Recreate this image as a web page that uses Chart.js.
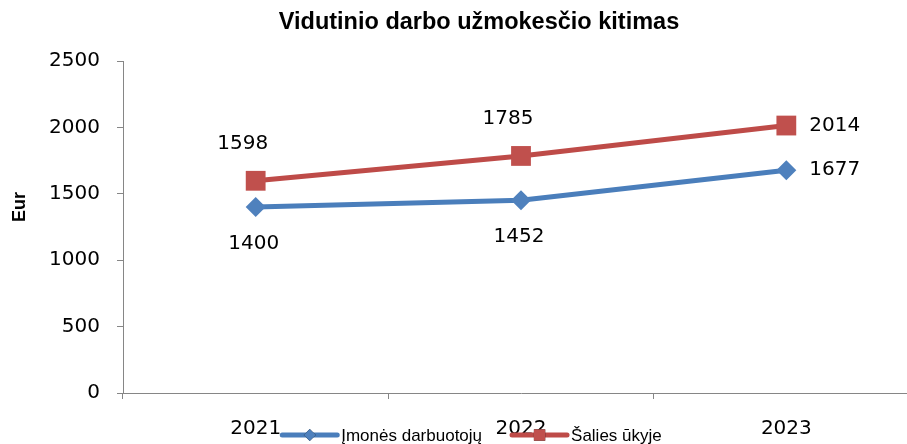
<!DOCTYPE html>
<html lang="lt">
<head>
  <meta charset="UTF-8" />
  <title>Vidutinio darbo užmokesčio kitimas</title>
  <script src="https://cdn.jsdelivr.net/npm/chart.js"></script>
  <style>
    html, body { margin: 0; padding: 0; background: #fff; overflow: hidden; }
    #wrap { width: 919px; height: 444px; }
  </style>
</head>
<body>
  <div id="wrap"><canvas id="wageChart" width="919" height="444"></canvas></div>

  <script>
    const years = ['2021', '2022', '2023'];
    const companyWages = [1400, 1452, 1677];
    const nationalWages = [1598, 1785, 2014];
    const seriesNames = ['Įmonės darbuotojų', 'Šalies ūkyje'];
    const chartTitle = 'Vidutinio darbo užmokesčio kitimas';
    const yTitle = 'Eur';

    const blue = '#4A7EBB';
    const red = '#BE4B48';
    const axisGray = '#868686';
    const numFont = '20px "DejaVu Sans"';

    // title, y title, data labels and the legend are drawn by hand
    const extras = {
      id: 'extras',
      afterDatasetsDraw(chart) {
        const ctx = chart.ctx;
        ctx.save();
        ctx.fillStyle = '#000';
        ctx.font = numFont;
        ctx.textBaseline = 'middle';
        chart.data.datasets.forEach((ds, i) => {
          const meta = chart.getDatasetMeta(i);
          meta.data.forEach((pt, j) => {
            const last = j === meta.data.length - 1;
            let x = pt.x, y = pt.y;
            if (last) {
              ctx.textAlign = 'left';
              x += 23;
            } else if (i === 1) {
              ctx.textAlign = 'center';
              x -= 13; y -= 37;
            } else {
              ctx.textAlign = 'center';
              x -= 2; y += 37;
            }
            ctx.fillText(String(ds.data[j]), x, y);
          });
        });
        ctx.restore();
      },
      afterDraw(chart) {
        const ctx = chart.ctx;
        const cx = 479;
        ctx.save();
        ctx.fillStyle = '#000';
        ctx.textBaseline = 'middle';
        ctx.textAlign = 'center';
        ctx.font = 'bold 23.5px "Liberation Sans"';
        ctx.fillText(chartTitle, cx, 23);

        ctx.save();
        ctx.translate(20, 207);
        ctx.rotate(-Math.PI / 2);
        ctx.font = 'bold 18px "Liberation Sans"';
        ctx.fillText(yTitle, 0, 0);
        ctx.restore();

        // legend
        ctx.font = '17px "Liberation Sans"';
        const lineLen = 55, gap = 4, between = 30;
        const widths = seriesNames.map(n => ctx.measureText(n).width);
        const total = widths.reduce((a, w) => a + lineLen + gap + w, 0) + between;
        let x = 472 - total / 2;
        const y = 435;
        chart.data.datasets.forEach((ds, i) => {
          ctx.strokeStyle = ds.borderColor;
          ctx.lineWidth = 5;
          ctx.lineCap = 'round';
          ctx.beginPath();
          ctx.moveTo(x, y);
          ctx.lineTo(x + lineLen, y);
          ctx.stroke();
          Chart.helpers.drawPoint(ctx, {
            pointStyle: ds.pointStyle,
            radius: i === 0 ? 6 : 8,
            borderWidth: 0,
            rotation: 0
          }, x + lineLen / 2, y);
          ctx.fillStyle = ds.pointBackgroundColor;
          ctx.fill();
          ctx.fillStyle = '#000';
          ctx.textAlign = 'left';
          ctx.fillText(seriesNames[i], x + lineLen + gap, y + 1);
          x += lineLen + gap + widths[i] + between;
        });
        ctx.restore();
      }
    };

    const ctx = document.getElementById('wageChart').getContext('2d');
    new Chart(ctx, {
      type: 'line',
      data: {
        labels: years,
        datasets: [
          {
            label: seriesNames[0],
            data: companyWages,
            borderColor: blue,
            borderWidth: 5,
            pointStyle: 'rectRot',
            pointRadius: 10,
            pointHoverRadius: 10,
            pointBackgroundColor: '#4F81BD',
            pointBorderColor: '#4F81BD',
            pointBorderWidth: 0,
            tension: 0
          },
          {
            label: seriesNames[1],
            data: nationalWages,
            borderColor: red,
            borderWidth: 5,
            pointStyle: 'rect',
            pointRadius: 14,
            pointHoverRadius: 14,
            pointBackgroundColor: '#C0504D',
            pointBorderColor: '#C0504D',
            pointBorderWidth: 0,
            tension: 0
          }
        ]
      },
      options: {
        responsive: false,
        animation: false,
        layout: { autoPadding: false, padding: { top: 61, right: 0, bottom: 0, left: 0 } },
        plugins: {
          legend: { display: false },
          title: { display: false },
          tooltip: { enabled: false }
        },
        scales: {
          x: {
            offset: true,
            grid: { offset: true, drawOnChartArea: false, tickLength: 6, color: axisGray },
            border: { color: axisGray },
            ticks: { color: '#000', font: { family: 'DejaVu Sans', size: 20 }, padding: 18 },
            afterFit(s) { s.height = 51; }
          },
          y: {
            min: 0,
            max: 2500,
            ticks: {
              stepSize: 500,
              color: '#000',
              font: { family: 'DejaVu Sans', size: 20 },
              padding: 17,
              callback: v => String(v)
            },
            grid: { drawOnChartArea: false, tickLength: 6, color: axisGray },
            border: { color: axisGray },
            afterFit(s) { s.width = 123; }
          }
        }
      },
      plugins: [extras]
    });
  </script>
</body>
</html>
